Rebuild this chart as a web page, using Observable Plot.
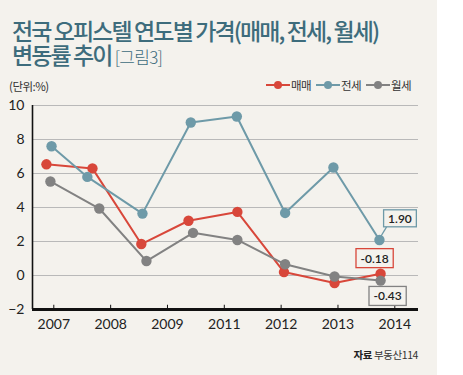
<!DOCTYPE html>
<html><head><meta charset="utf-8">
<script src="https://cdn.jsdelivr.net/npm/d3@7"></script>
<script src="https://cdn.jsdelivr.net/npm/@observablehq/plot@0.6"></script>
<style>
body{margin:0;background:#fff;}
#wrap{position:relative;width:437px;height:375px;background:#f4f2ed;overflow:hidden;font-family:"Noto Sans CJK KR","Noto Sans",sans-serif;}
.title{position:absolute;left:12px;font-weight:500;font-size:23px;line-height:23px;color:#3d6c7c;letter-spacing:-1.9px;white-space:nowrap;}
.title span{font-size:17px;font-weight:300;letter-spacing:-0.7px;}
#unit{position:absolute;left:9px;top:78px;font-size:11.5px;color:#333;letter-spacing:-0.5px;}
#legend{position:absolute;left:266px;top:77px;display:flex;align-items:center;font-size:11.5px;color:#333;letter-spacing:-0.6px;}
#legend .it{display:flex;align-items:center;margin-right:5px;}
#legend svg{margin-right:1px;}
#chart{position:absolute;left:0;top:92px;}
#source{position:absolute;right:19px;top:347px;font-size:10.5px;color:#333;letter-spacing:-0.4px;}
#source b{color:#222;}
</style>
</head><body>
<div id="wrap">
  <div class="title" style="top:19px">전국 오피스텔 연도별 가격(매매, 전세, 월세)</div>
  <div class="title" style="top:43px">변동률 추이<span> [그림3]</span></div>
  <div id="unit">(단위:%)</div>
  <div id="legend"></div>
  <div id="chart"></div>
  <div id="source"><b>자료</b> 부동산114</div>
</div>
<script>
// ---- data ----
const seriesNames = ["매매", "전세", "월세"];
const seriesColors = ["#d8473a", "#6e9aa8", "#828282"];
const tickLabels = ["2007", "2008", "2009", "2011", "2012", "2013", "2014"];
// x positions of each point, in tick-label units (as drawn in the reference)
const maemaeX = [-0.13, 0.68, 1.54, 2.37, 3.23, 4.05, 4.94, 5.75];
const maemae  = [6.54, 6.30, 1.85, 3.22, 3.74, 0.20, -0.44, 0.10];
const jeonseX = [-0.04, 0.59, 1.56, 2.41, 3.22, 4.07, 4.92, 5.73];
const jeonse  = [7.60, 5.80, 3.64, 9.00, 9.35, 3.68, 6.35, 2.09];
const wolseX  = [-0.06, 0.80, 1.63, 2.45, 3.23, 4.07, 4.94, 5.75];
const wolse   = [5.53, 3.94, 0.85, 2.51, 2.09, 0.66, -0.06, -0.30];
const lastLabels = ["-0.18", "1.90", "-0.43"]; // 매매, 전세, 월세
const yTicks = [-2, 0, 2, 4, 6, 8, 10];

// ---- build ----
const bg = "#f4f2ed";
const xDomain = [-0.375, 6.417];
const yDomain = [-2, 10];
const tickIdx = tickLabels.map((_, i) => i);
const order = [0, 2, 1]; // draw order: 매매, 월세, 전세
const xsAll = [maemaeX, jeonseX, wolseX];
const ysAll = [maemae, jeonse, wolse];
const rows = order.flatMap(k => ysAll[k].map((v, i) => ({series: seriesNames[k], x: xsAll[k][i], y: v})));
const calloutOffsets = [[-6, -15], [20.5, -21], [7, 16]];
const callouts = [0, 1, 2].map(k => {
  const n = ysAll[k].length - 1;
  return {series: seriesNames[k], x: xsAll[k][n], y: ysAll[k][n], text: lastLabels[k], dx: calloutOffsets[k][0], dy: calloutOffsets[k][1], color: seriesColors[k]};
});

const textMarks = callouts.map(c => Plot.text([c], {x: "x", y: "y", text: "text", dx: c.dx, dy: c.dy,
  fontSize: 12, fontWeight: 600, fill: "#222", fontFamily: "Lato, sans-serif"}));

const chart = Plot.plot({
  width: 437, height: 250,
  marginTop: 13, marginBottom: 33, marginLeft: 32, marginRight: 19,
  style: {background: "transparent", fontSize: "14px", fontFamily: "Lato, 'Noto Sans', sans-serif", color: "#222"},
  x: {type: "linear", domain: xDomain, ticks: tickIdx, tickFormat: i => tickLabels[i], tickSize: 0, tickPadding: 10, label: null},
  y: {domain: yDomain, ticks: yTicks, tickSize: 0, tickPadding: 8, label: null},
  color: {domain: seriesNames, range: seriesColors},
  marks: [
    Plot.ruleY(yTicks.filter(t => t > yDomain[0]), {stroke: "#b9b9b9", strokeWidth: 1}),
    Plot.ruleX([xDomain[0]], {stroke: "#111", strokeWidth: 1.6}),
    Plot.ruleY([yDomain[0]], {stroke: "#111", strokeWidth: 3}),
    Plot.ruleX(tickIdx, {y1: yDomain[0], y2: yDomain[0] + 0.25, stroke: "#111", strokeWidth: 1}),
    Plot.line(rows, {x: "x", y: "y", z: "series", stroke: "series", strokeWidth: 2}),
    Plot.dot(rows, {x: "x", y: "y", fill: "series", r: 5.2}),
    ...textMarks
  ]
});
document.getElementById("chart").appendChild(chart);

// boxes around callouts
const svg = chart;
const sr = svg.getBoundingClientRect();
const sx = chart.scale("x"), sy = chart.scale("y");
const xs = d3.scaleLinear(sx.domain, sx.range);
const ys = d3.scaleLinear(sy.domain, sy.range);
const ns = "http://www.w3.org/2000/svg";
const allTexts = Array.from(svg.querySelectorAll("text"));
callouts.forEach((c, k) => {
  const t = allTexts.find(el => el.textContent === c.text);
  if (!t) return;
  let g = t; while (g.parentNode !== svg) g = g.parentNode;
  const b = t.getBoundingClientRect();
  const cx = b.left - sr.left + b.width / 2, cy = b.top - sr.top + b.height / 2;
  const w = b.width + 9, h = k === 1 ? 17 : 19;
  const rx = cx - w / 2, ry = cy - h / 2;
  if (k === 1) {
    const ln = document.createElementNS(ns, "line");
    ln.setAttribute("x1", xs(c.x)); ln.setAttribute("y1", ys(c.y));
    ln.setAttribute("x2", rx + 3); ln.setAttribute("y2", ry + h);
    ln.setAttribute("stroke", c.color); ln.setAttribute("stroke-width", 1.3);
    svg.insertBefore(ln, g);
  }
  const r = document.createElementNS(ns, "rect");
  r.setAttribute("x", rx); r.setAttribute("y", ry); r.setAttribute("width", w); r.setAttribute("height", h);
  r.setAttribute("fill", bg); r.setAttribute("stroke", c.color); r.setAttribute("stroke-width", 1.3);
  svg.insertBefore(r, g);
});

// legend
const lg = document.getElementById("legend");
seriesNames.forEach((n, i) => {
  const it = document.createElement("div"); it.className = "it";
  it.innerHTML = `<svg width="24" height="10"><line x1="0" y1="5" x2="24" y2="5" stroke="${seriesColors[i]}" stroke-width="2"/><circle cx="12" cy="5" r="4" fill="${seriesColors[i]}"/></svg><span>${n}</span>`;
  lg.appendChild(it);
});
</script>
</body></html>
